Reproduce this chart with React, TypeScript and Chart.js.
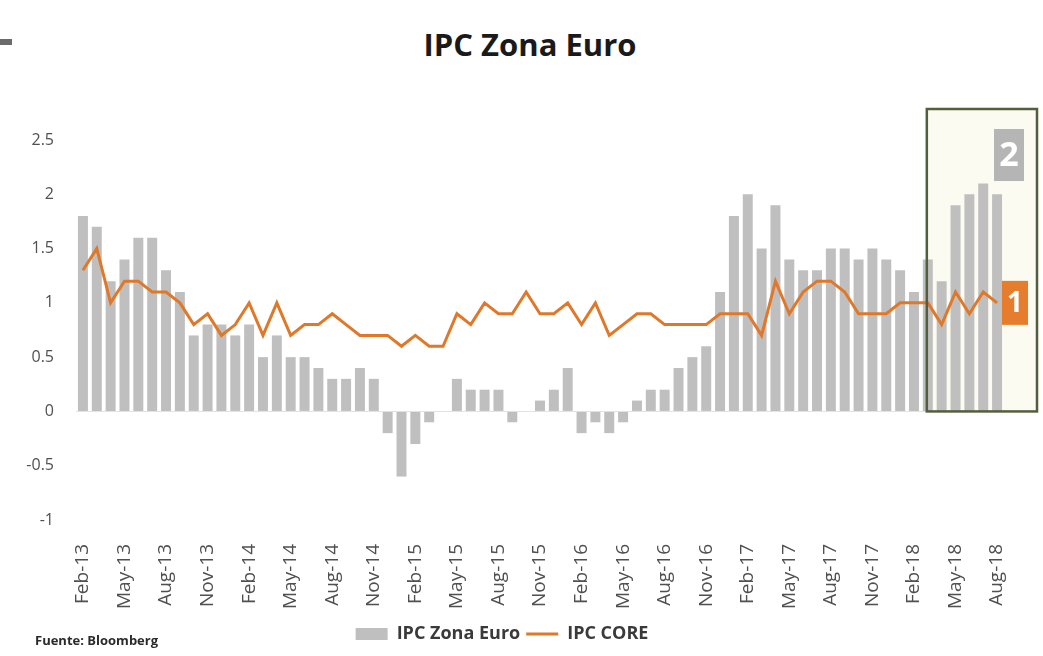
import React, { useEffect, useRef } from "react";
import { Chart, registerables } from "chart.js";

Chart.register(...registerables);

const categories = [
  "Feb-13","Mar-13","Apr-13","May-13","Jun-13","Jul-13","Aug-13","Sep-13","Oct-13","Nov-13","Dec-13",
  "Jan-14","Feb-14","Mar-14","Apr-14","May-14","Jun-14","Jul-14","Aug-14","Sep-14","Oct-14","Nov-14","Dec-14",
  "Jan-15","Feb-15","Mar-15","Apr-15","May-15","Jun-15","Jul-15","Aug-15","Sep-15","Oct-15","Nov-15","Dec-15",
  "Jan-16","Feb-16","Mar-16","Apr-16","May-16","Jun-16","Jul-16","Aug-16","Sep-16","Oct-16","Nov-16","Dec-16",
  "Jan-17","Feb-17","Mar-17","Apr-17","May-17","Jun-17","Jul-17","Aug-17","Sep-17","Oct-17","Nov-17","Dec-17",
  "Jan-18","Feb-18","Mar-18","Apr-18","May-18","Jun-18","Jul-18","Aug-18",
];

const ipcZonaEuro = [
  1.8, 1.7, 1.2, 1.4, 1.6, 1.6, 1.3, 1.1, 0.7, 0.8,
  0.8, 0.7, 0.8, 0.5, 0.7, 0.5, 0.5, 0.4, 0.3, 0.3,
  0.4, 0.3, -0.2, -0.6, -0.3, -0.1, 0.0, 0.3, 0.2, 0.2,
  0.2, -0.1, 0.0, 0.1, 0.2, 0.4, -0.2, -0.1, -0.2, -0.1,
  0.1, 0.2, 0.2, 0.4, 0.5, 0.6, 1.1, 1.8, 2.0, 1.5,
  1.9, 1.4, 1.3, 1.3, 1.5, 1.5, 1.4, 1.5, 1.4, 1.3,
  1.1, 1.4, 1.2, 1.9, 2.0, 2.1, 2.0,
];

const ipcCore = [
  1.3, 1.5, 1.0, 1.2, 1.2, 1.1, 1.1, 1.0, 0.8, 0.9,
  0.7, 0.8, 1.0, 0.7, 1.0, 0.7, 0.8, 0.8, 0.9, 0.8,
  0.7, 0.7, 0.7, 0.6, 0.7, 0.6, 0.6, 0.9, 0.8, 1.0,
  0.9, 0.9, 1.1, 0.9, 0.9, 1.0, 0.8, 1.0, 0.7, 0.8,
  0.9, 0.9, 0.8, 0.8, 0.8, 0.8, 0.9, 0.9, 0.9, 0.7,
  1.2, 0.9, 1.1, 1.2, 1.2, 1.1, 0.9, 0.9, 0.9, 1.0,
  1.0, 1.0, 0.8, 1.1, 0.9, 1.1, 1.0,
];

const yTicks = [-1, -0.5, 0, 0.5, 1, 1.5, 2, 2.5];

// index of the first month inside the highlighted box (Mar-18)
const boxStartIndex = 61;
const boxLabels = ["2", "1"];

const BAR_COLOR = "#bfbfbf";
const LINE_COLOR = "#e0782a";
const FONT = "'Open Sans', 'Liberation Sans', sans-serif";

function boxRect(chart: any) {
  const x = chart.scales.x;
  const y = chart.scales.y;
  const left = x.getPixelForValue(boxStartIndex) - 1;
  const right = chart.chartArea.right + 33;
  const top = y.getPixelForValue(2.5) - 31;
  const bottom = y.getPixelForValue(0);
  return { left, right, top, bottom };
}

const highlightPlugin = {
  id: "highlightBox",
  beforeDatasetsDraw(chart: any) {
    const { ctx } = chart;
    const { left, right, top, bottom } = boxRect(chart);
    ctx.save();
    ctx.fillStyle = "#fbfbf1";
    ctx.fillRect(left, top, right - left, bottom - top);
    ctx.restore();
  },
  afterDatasetsDraw(chart: any) {
    const { ctx } = chart;
    const y = chart.scales.y;
    const { left, right, top, bottom } = boxRect(chart);
    ctx.save();
    ctx.strokeStyle = "#535e3c";
    ctx.lineWidth = 2.5;
    ctx.strokeRect(left, top, right - left, bottom - top);

    const l2x = right - 43;
    const l2y = top + 20;
    ctx.fillStyle = "#b5b5b5";
    ctx.fillRect(l2x, l2y, 30, 52);
    ctx.fillStyle = "#ffffff";
    ctx.font = `bold 34px ${FONT}`;
    ctx.textAlign = "center";
    ctx.textBaseline = "middle";
    ctx.fillText(boxLabels[0], l2x + 15, l2y + 27);

    const l1x = right - 35;
    const l1y = y.getPixelForValue(1) - 22;
    ctx.fillStyle = "#e57d2c";
    ctx.fillRect(l1x, l1y, 26, 44);
    ctx.fillStyle = "#ffffff";
    ctx.font = `bold 28px ${FONT}`;
    ctx.fillText(boxLabels[1], l1x + 13, l1y + 23);
    ctx.restore();
  },
};

export default function App() {
  const canvasRef = useRef<HTMLCanvasElement | null>(null);

  useEffect(() => {
    if (!canvasRef.current) return;
    const chart = new Chart(canvasRef.current, {
      type: "bar",
      data: {
        labels: categories,
        datasets: [
          {
            type: "bar",
            label: "IPC Zona Euro",
            data: ipcZonaEuro,
            backgroundColor: BAR_COLOR,
            borderWidth: 0,
            barPercentage: 0.72,
            categoryPercentage: 1,
            order: 2,
          } as any,
          {
            type: "line",
            label: "IPC CORE",
            data: ipcCore,
            borderColor: LINE_COLOR,
            backgroundColor: LINE_COLOR,
            borderWidth: 3,
            pointRadius: 0,
            tension: 0,
            order: 1,
          } as any,
        ],
      },
      options: {
        animation: false,
        responsive: false,
        maintainAspectRatio: false,
        layout: { padding: { left: 0, right: 39, top: 140, bottom: 3 } },
        plugins: {
          title: { display: false },
          tooltip: { enabled: false },
          legend: {
            position: "bottom",
            labels: {
              usePointStyle: true,
              pointStyleWidth: 32,
              boxHeight: 12,
              padding: 6,
              color: "#3a3a3a",
              font: { family: FONT, size: 18, weight: "bold" },
              sort: (a: any, b: any) => a.datasetIndex - b.datasetIndex,
              generateLabels(chart: any) {
                const items = Chart.defaults.plugins.legend.labels.generateLabels(chart);
                items.forEach((it: any) => {
                  if (it.datasetIndex === 0) {
                    it.pointStyle = "rect";
                    it.lineWidth = 0;
                    it.fillStyle = BAR_COLOR;
                    it.strokeStyle = BAR_COLOR;
                  } else {
                    it.pointStyle = "line";
                    it.lineWidth = 3;
                    it.fillStyle = LINE_COLOR;
                    it.strokeStyle = LINE_COLOR;
                  }
                });
                return items;
              },
            },
          },
        },
        scales: {
          x: {
            type: "category",
            offset: true,
            grid: { display: false },
            border: { display: false },
            afterFit(scale: any) {
              scale.height = 99;
            },
            ticks: {
              autoSkip: false,
              maxRotation: 90,
              minRotation: 90,
              padding: 16,
              color: "#505050",
              font: { family: FONT, size: 19 },
              callback(_v: any, index: number) {
                return index % 3 === 0 ? categories[index] : "";
              },
            },
          },
          y: {
            type: "linear",
            min: -1,
            max: 2.5,
            afterFit(scale: any) {
              scale.width = 76;
            },
            afterBuildTicks(scale: any) {
              scale.ticks = yTicks.map((v) => ({ value: v }));
            },
            grid: {
              drawTicks: false,
              color: (c: any) => (c.tick && c.tick.value === 0 ? "#e3e3e3" : "rgba(0,0,0,0)"),
            },
            border: { display: false },
            ticks: {
              padding: 22,
              color: "#505050",
              font: { family: FONT, size: 16 },
              callback(v: any) {
                return String(v);
              },
            },
          },
        },
      },
      plugins: [highlightPlugin],
    } as any);
    return () => chart.destroy();
  }, []);

  return (
    <div style={{ position: "absolute", left: 0, top: 0, width: 1043, height: 656, background: "#ffffff", overflow: "hidden" }}>
      <div style={{ position: "absolute", left: 0, top: 39, width: 12, height: 6, background: "#6b6b6b" }} />
      <div
        style={{
          position: "absolute",
          left: 30,
          top: 22,
          width: 1000,
          textAlign: "center",
          fontFamily: FONT,
          fontWeight: 700,
          fontSize: 31,
          color: "#1a1a1a",
          lineHeight: "44px",
        }}
      >
        IPC Zona Euro
      </div>
      <canvas ref={canvasRef} width={1043} height={656} style={{ position: "absolute", left: 0, top: 0 }} />
      <div
        style={{
          position: "absolute",
          left: 35,
          top: 631,
          fontFamily: FONT,
          fontWeight: 700,
          fontSize: 13,
          color: "#2a2a2a",
          lineHeight: "18px",
        }}
      >
        Fuente: Bloomberg
      </div>
    </div>
  );
}
